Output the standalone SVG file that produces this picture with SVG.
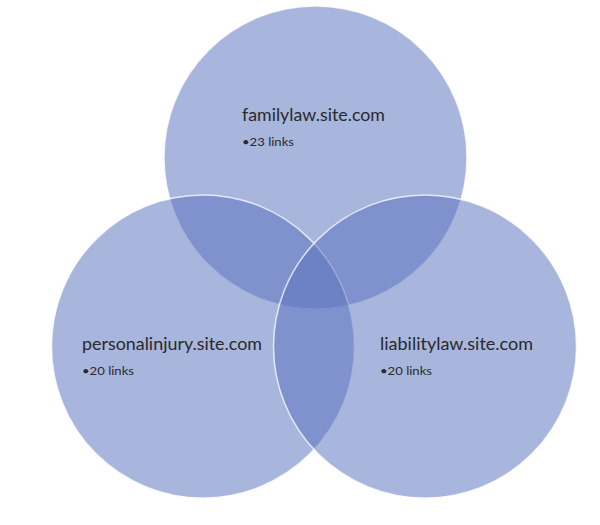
<svg xmlns="http://www.w3.org/2000/svg" width="600" height="525" viewBox="0 0 600 525">
<style>
.c{fill:#5A74BF;fill-opacity:0.53;stroke:#ffffff;stroke-opacity:0.75;stroke-width:1.5}
.t{font-family:Lato,"Open Sans","Liberation Sans",sans-serif;fill:#2a2a2a}
.h{font-size:17px}
.s{font-size:11px}
</style>
<rect width="600" height="525" fill="#ffffff"/>
<g id="familylaw">
<circle class="c" cx="315.5" cy="157.5" r="151.5"/>
</g>
<g id="personalinjury">
<circle class="c" cx="203" cy="346.5" r="151.5"/>
</g>
<g id="liabilitylaw">
<circle class="c" cx="425" cy="346.5" r="151.5"/>
</g>
<g id="labels">
<g id="familylaw-label">
<text class="t h" x="242" y="121" textLength="143" lengthAdjust="spacingAndGlyphs">familylaw.site.com</text>
<text class="t s" x="242" y="146" textLength="52" lengthAdjust="spacingAndGlyphs">•23 links</text>
</g>
<g id="personalinjury-label">
<text class="t h" x="82" y="350" textLength="180" lengthAdjust="spacingAndGlyphs">personalinjury.site.com</text>
<text class="t s" x="82" y="375" textLength="52" lengthAdjust="spacingAndGlyphs">•20 links</text>
</g>
<g id="liabilitylaw-label">
<text class="t h" x="380" y="350" textLength="153" lengthAdjust="spacingAndGlyphs">liabilitylaw.site.com</text>
<text class="t s" x="380" y="375" textLength="52" lengthAdjust="spacingAndGlyphs">•20 links</text>
</g>
</g>
<g id="connectors"></g>
</svg>
